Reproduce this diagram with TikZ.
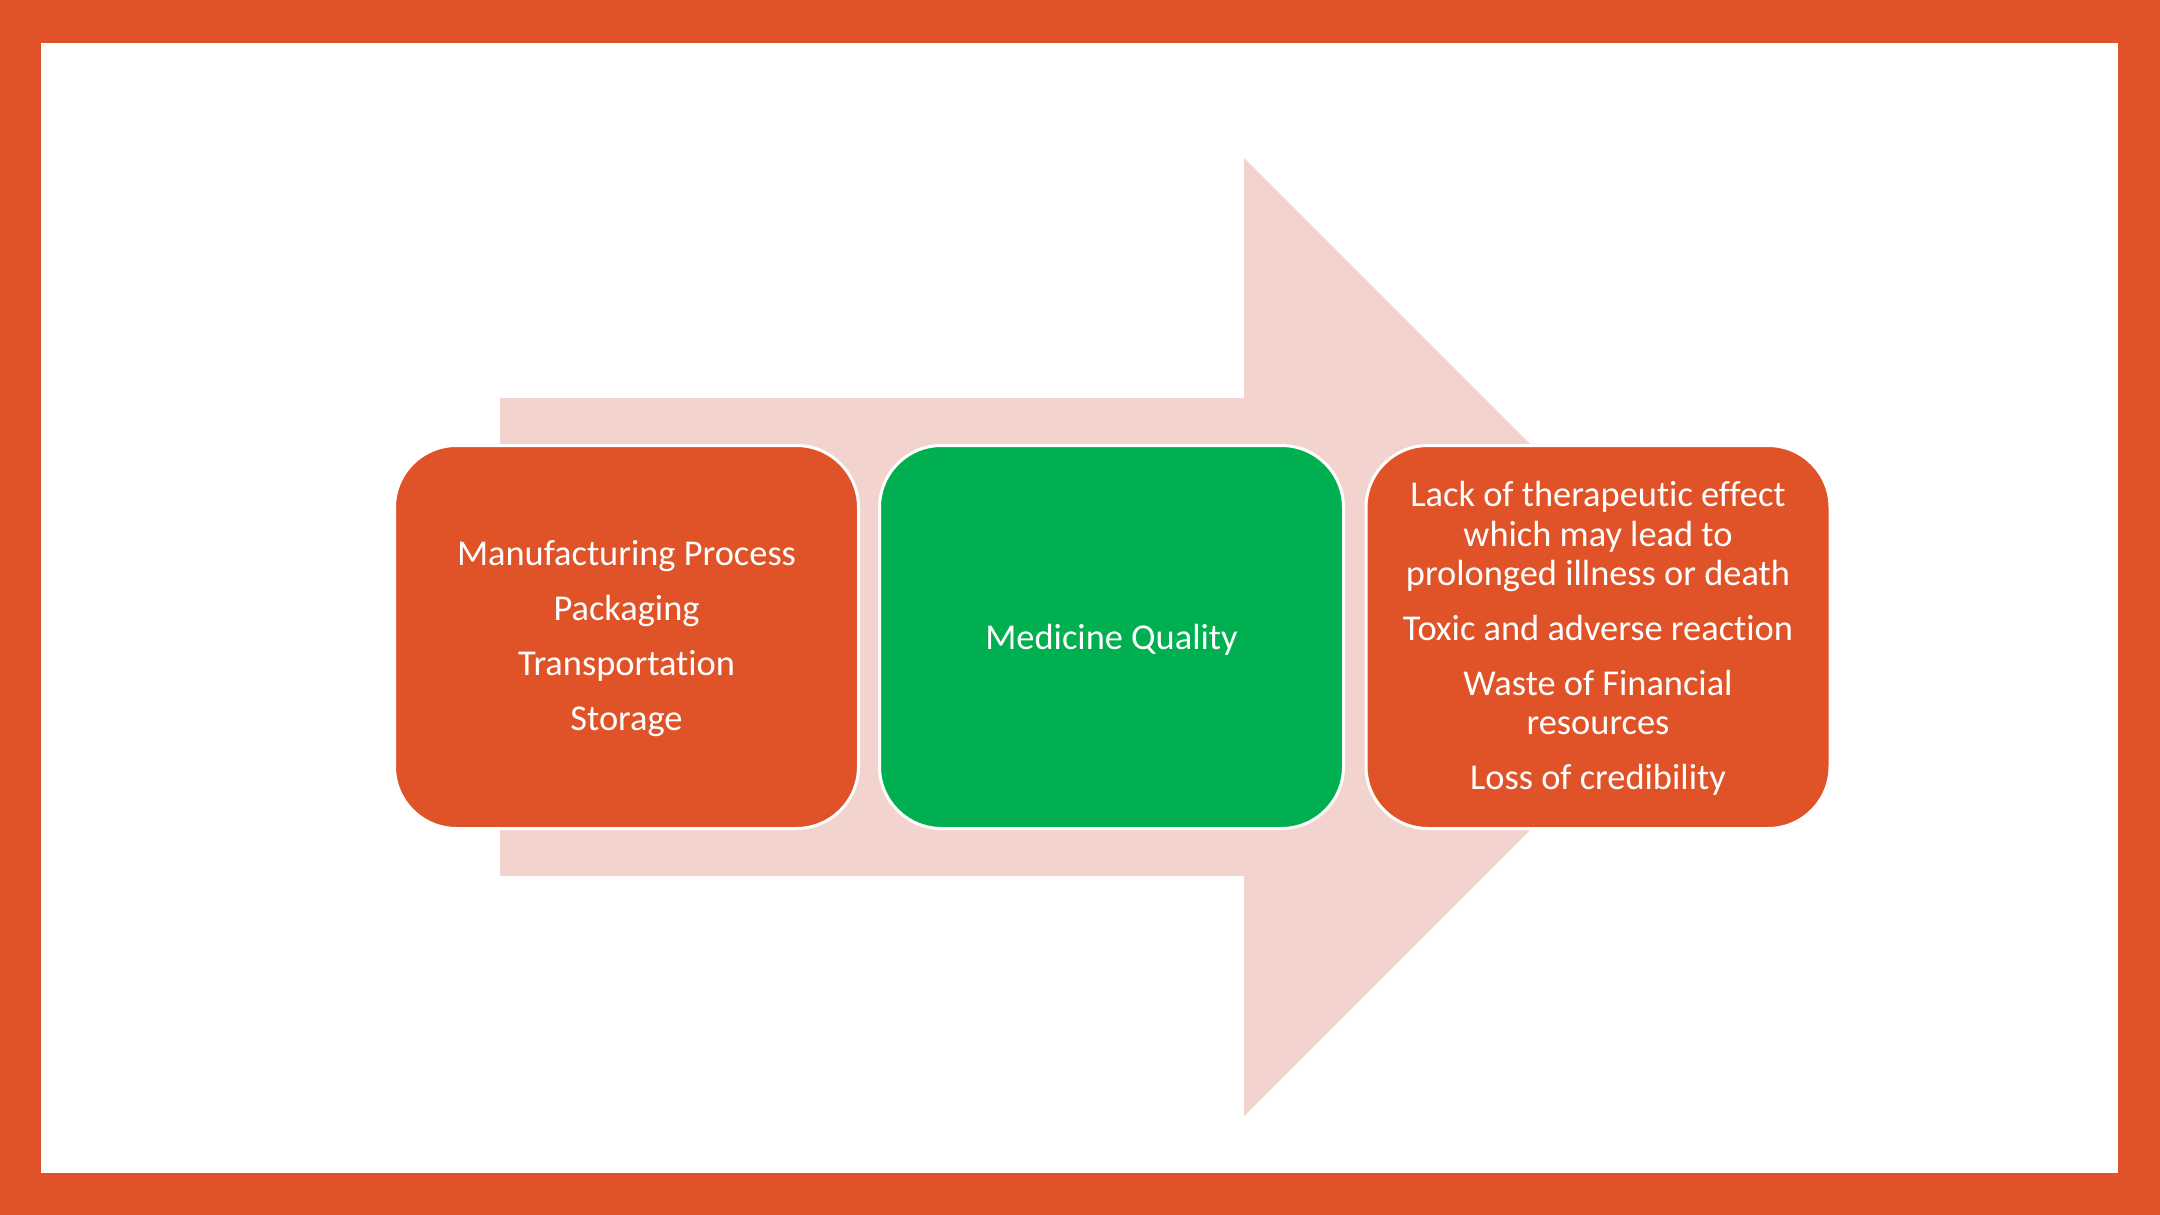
\documentclass[tikz,border=0pt]{standalone}
\usepackage{fontspec}
\setmainfont[Ligatures={NoCommon}]{Carlito}
\definecolor{frameorange}{HTML}{E05328}
\definecolor{arrowpink}{HTML}{F2D3CE}
\definecolor{boxgreen}{HTML}{00B050}
\newcommand{\toppad}{\rule{0pt}{14.2pt}}
\tikzset{
  card/.style={draw=white, line width=1.5pt, rounded corners=31pt,
    minimum width=232pt, minimum height=191.5pt, inner sep=0pt,
    align=center, text=white, font=\fontsize{18.2}{19.6}\selectfont},
}
\begin{document}
\begin{tikzpicture}[x=0.5pt,y=-0.5pt]
\useasboundingbox (0,0) rectangle (2160,1215);
\fill[frameorange] (0,0) rectangle (2160,1215);
\fill[white] (41,43) rectangle (2118,1173);
\fill[arrowpink] (500,398) -- (1244,398) -- (1244,158) -- (1723,637) -- (1244,1116) -- (1244,876) -- (500,876) -- cycle;
\node[card, fill=frameorange] (causes) at (626.5,637)
  {\toppad Manufacturing Process\\[7.95pt]Packaging\\[7.95pt]Transportation\\[7.95pt]Storage};
\node[card, fill=boxgreen] (quality) at (1111.5,637) {\rule{0pt}{15.5pt}Medicine Quality};
\node[card, fill=frameorange] (effects) at (1598,637)
  {\toppad Lack of therapeutic effect\\which may lead to\\prolonged illness or death\\[7.95pt]Toxic and adverse reaction\\[7.95pt]Waste of Financial\\resources\\[7.95pt]Loss of credibility};
\end{tikzpicture}
\end{document}
